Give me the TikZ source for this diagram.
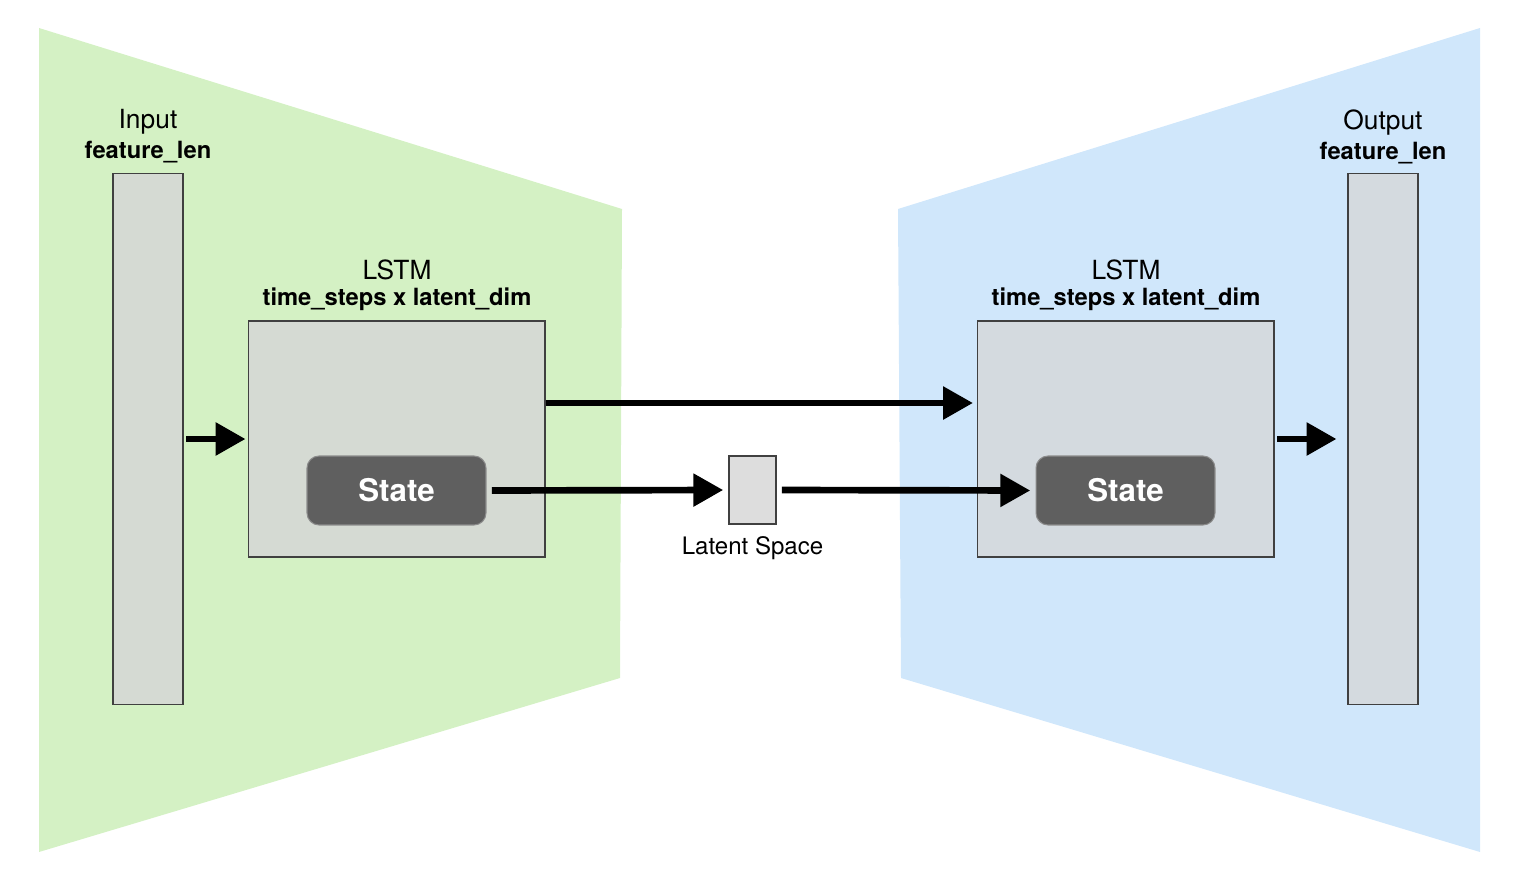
\documentclass[tikz,border=0pt]{standalone}
\usepackage{fontspec}
\setmainfont{TeX Gyre Heros}
\usetikzlibrary{arrows.meta,positioning}

\definecolor{encgreen}{HTML}{D4F1C4}
\definecolor{decblue}{HTML}{D0E7FB}
\definecolor{encgrey}{HTML}{D5DAD3}
\definecolor{decgrey}{HTML}{D4DADF}
\definecolor{stategrey}{HTML}{5F5F5F}
\definecolor{latentgrey}{HTML}{DDDDDD}

\tikzset{layer/.style={draw=black!75,line width=0.6pt,inner sep=0pt}}
\tikzset{statebox/.style={draw=black!45,line width=0.6pt,fill=stategrey,rounded corners=0.24cm,
    minimum width=3.58cm,minimum height=1.38cm,text=white,font=\fontsize{17.8}{20}\selectfont\bfseries}}
\tikzset{lbl/.style={font=\fontsize{15}{18}\selectfont,inner sep=0pt}}
\tikzset{dimlbl/.style={font=\fontsize{13.5}{16}\selectfont\bfseries,inner sep=0pt}}
\tikzset{flow/.style={line width=3.8pt,-{Triangle[length=17pt,width=18pt]}}}

\begin{document}
\begin{tikzpicture}[x=0.02cm,y=-0.02cm]
    \useasboundingbox (0,0) rectangle (1515,875);
    % encoder and decoder backgrounds
    \fill[encgreen] (39,28) -- (622,209) -- (620,678) -- (39,852) -- cycle;
    \fill[decblue] (898,209) -- (1480,28) -- (1480,852) -- (901,678) -- cycle;

    % input and output
    \node[layer,fill=encgrey,minimum width=1.4cm,minimum height=10.64cm] (input) at (148,439) {};
    \node[dimlbl] (inlen) at (148,152) {feature\_len};
    \node[lbl] (inname) at (148,122) {Input};
    \node[layer,fill=decgrey,minimum width=1.4cm,minimum height=10.64cm] (output) at (1383,439) {};
    \node[dimlbl] (outlen) at (1383,153) {feature\_len};
    \node[lbl] (outname) at (1383,123) {Output};

    % lstm layers
    \node[layer,fill=encgrey,minimum width=5.94cm,minimum height=4.72cm] (enc) at (396.5,439) {};
    \node[dimlbl] (encdim) at (397,299) {time\_steps x latent\_dim};
    \node[lbl] (encname) at (397,270) {LSTM};
    \node[statebox] (encstate) at (396.5,490.5) {State};

    \node[layer,fill=decgrey,minimum width=5.94cm,minimum height=4.72cm] (dec) at (1125.5,439) {};
    \node[dimlbl] (decdim) at (1126,299) {time\_steps x latent\_dim};
    \node[lbl] (decname) at (1126,270) {LSTM};
    \node[statebox] (decstate) at (1125.5,490.5) {State};

    % latent space
    \node[layer,fill=latentgrey,minimum width=0.94cm,minimum height=1.36cm] (latent) at (752.5,490) {};
    \node[lbl,font=\fontsize{13.7}{16}\selectfont,below=0.24cm of latent] (latentname) {Latent Space};

    % connections
    \draw[flow,shorten <=1.5pt] (input.east) -- ++(62,0) coordinate (inend);
    \draw[flow] ([yshift=0.72cm]enc.east) -- ([yshift=0.72cm,xshift=-2pt]dec.west);
    \draw[flow,shorten <=3pt,shorten >=3pt] (encstate.east) -- (latent.west);
    \draw[flow,shorten <=3pt,shorten >=3pt] (latent.east) -- (decstate.west);
    \draw[flow,shorten <=1.5pt] (dec.east) -- ++(62,0) coordinate (outend);
\end{tikzpicture}
\end{document}
